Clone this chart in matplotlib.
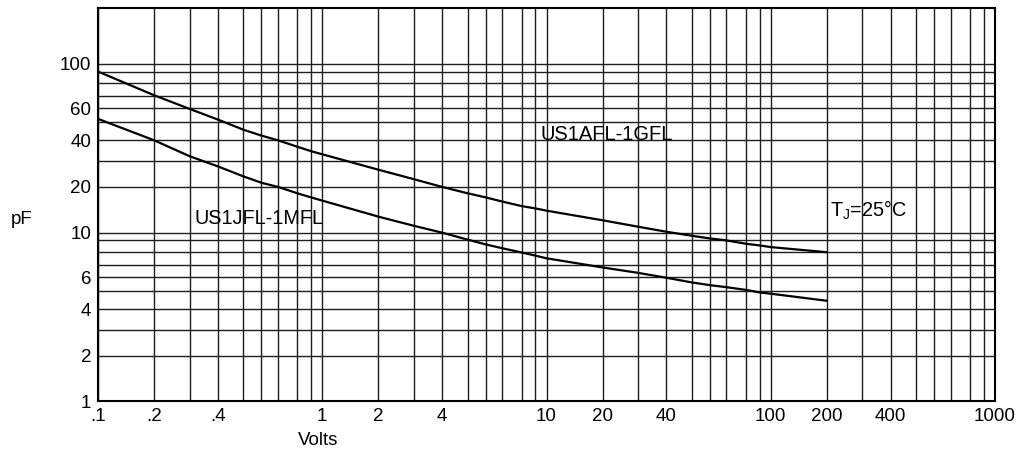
import numpy as np
import matplotlib
matplotlib.use("Agg")
import matplotlib.pyplot as plt

plt.rcParams['font.family'] = ['Liberation Sans', 'DejaVu Sans']
plt.rcParams['mathtext.fontset'] = 'custom'
plt.rcParams['mathtext.rm'] = 'Liberation Sans'

# reverse voltage (V) and junction capacitance (pF)
volts = [0.1, 0.2, 0.3, 0.4, 0.5, 0.6, 0.7, 0.8, 0.9, 1,
         2, 3, 4, 5, 6, 7, 8, 9, 10,
         20, 30, 40, 50, 60, 70, 80, 90, 100, 200]
cap_afl_gfl = [90, 70.7, 59.5, 51.6, 45.7, 42.5, 40, 36.9, 34.8, 33.3,
               26.7, 23.0, 20, 18.6, 17.7, 16.8, 15.8, 15.3, 14.8,
               12.7, 11.3, 10.2, 9.6, 9.25, 9.0, 8.7, 8.55, 8.4, 7.95]
cap_jfl_mfl = [52.1, 40, 32.4, 28, 24.1, 21.6, 20, 18.6, 17.7, 17.0,
               13.5, 11.5, 10, 9.1, 8.64, 8.3, 7.93, 7.7, 7.5,
               6.8, 6.35, 5.95, 5.6, 5.4, 5.25, 5.05, 4.9, 4.83, 4.45]

x_ticks = [0.1, 0.2, 0.4, 1, 2, 4, 10, 20, 40, 100, 200, 400, 1000]
x_labels = [".1", ".2", ".4", "1", "2", "4", "10", "20", "40", "100", "200", "400", "1000"]
y_ticks = [1, 2, 4, 6, 10, 20, 40, 60, 100]
y_labels = ["1", "2", "4", "6", "10", "20", "40", "60", "100"]

x_grid = [k * 10.0 ** e for e in (-1, 0, 1, 2) for k in range(1, 10)] + [1000]
y_grid = [k * 10.0 ** e for e in (0, 1) for k in range(1, 10)] + [100]

# the printed graph paper is not a true log ruling: where 2..9 fall inside each decade
x_paper = [0, 0.25, 0.408, 0.534, 0.648, 0.729, 0.802, 0.889, 0.95, 1]
y_paper = [0, 0.271, 0.423, 0.547, 0.657, 0.737, 0.808, 0.888, 0.954, 1]


def paper_scale(frac):
    mant = np.arange(1, 11)

    def fwd(v):
        with np.errstate(all='ignore'):
            v = np.asarray(v, dtype=float)
            e = np.floor(np.log10(v))
            return e + np.interp(v / 10.0 ** e, mant, frac)

    def inv(u):
        u = np.asarray(u, dtype=float)
        e = np.floor(u)
        return 10.0 ** e * np.interp(u - e, frac, mant)

    return fwd, inv


fig = plt.figure(figsize=(10.2, 4.55), dpi=100)
ax = fig.add_axes([0.0961, 0.1176, 0.8794, 0.8648])

ax.set_xscale('function', functions=paper_scale(x_paper))
ax.set_yscale('function', functions=paper_scale(y_paper))
ax.set_xlim(0.1, 1000)
ax.set_ylim(1, 239)

ax.set_xticks(x_grid, minor=True)
ax.set_yticks(y_grid, minor=True)
ax.set_xticks(x_ticks)
ax.set_xticklabels(x_labels)
ax.set_yticks(y_ticks)
ax.set_yticklabels(y_labels)
ax.xaxis.set_minor_formatter(matplotlib.ticker.NullFormatter())
ax.yaxis.set_minor_formatter(matplotlib.ticker.NullFormatter())
ax.tick_params(which='both', length=0, labelsize=13.5, pad=5)
ax.grid(which='both', color='#1e1e1e', lw=1.0)
ax.set_axisbelow(True)

for s in ax.spines.values():
    s.set_linewidth(1.5)
    s.set_color('black')

ax.plot(volts, cap_afl_gfl, color='black', lw=1.6)
ax.plot(volts, cap_jfl_mfl, color='black', lw=1.6)

ax.text(9.45, 40.3, "US1AFL-1GFL", fontsize=14.5, va='baseline', ha='left')
ax.text(0.318, 11.9, "US1JFL-1MFL", fontsize=14.3, va='baseline', ha='left')
ax.text(208, 13.5, r"T$_{\mathrm{J}}$=25°C", fontsize=14.3, va='baseline', ha='left')

ax.set_ylabel("pF", rotation=0, fontsize=13.5, va='center', ha='center')
ax.yaxis.set_label_coords(-0.085, 0.462)
ax.set_xlabel("Volts", fontsize=13.5, va='center', ha='center')
ax.xaxis.set_label_coords(0.245, -0.10)

fig.savefig("out.png", dpi=100)
